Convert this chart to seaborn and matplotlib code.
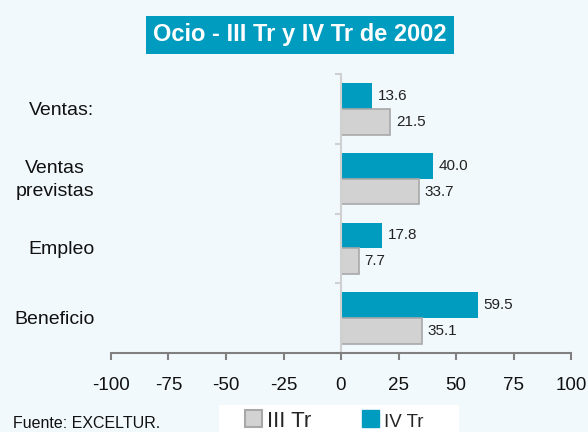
import pandas as pd
import matplotlib
matplotlib.use('Agg')
import matplotlib.pyplot as plt
import matplotlib.patches as mpatches
import seaborn as sns

#### Datos ####
categorias = ['Ventas:', 'Ventas\nprevistas', 'Empleo', 'Beneficio']
iii_tr = [21.5, 33.7, 7.7, 35.1]
iv_tr = [13.6, 40.0, 17.8, 59.5]
series = ['IV Tr', 'III Tr']
x_ticks = [-100, -75, -50, -25, 0, 25, 50, 75, 100]

FONDO = '#F2F9FD'
AZUL = '#009CBF'
GRIS = '#D2D2D2'

df = pd.DataFrame({
    'categoria': categorias * 2,
    'serie': ['IV Tr'] * 4 + ['III Tr'] * 4,
    'valor': iv_tr + iii_tr,
})

sns.set_style('white')
plt.rcParams['font.family'] = ['Liberation Sans', 'DejaVu Sans']

fig = plt.figure(figsize=(5.88, 4.32), dpi=100, facecolor=FONDO)
ax = fig.add_axes([111 / 588, 1 - 353 / 432, 460 / 588, 279 / 432])
ax.set_facecolor(FONDO)

sns.barplot(data=df, y='categoria', x='valor', hue='serie', hue_order=series,
            order=categorias, orient='h', palette={'IV Tr': AZUL, 'III Tr': GRIS},
            saturation=1, width=0.74, ax=ax, legend=False)

for cont, nombre in zip(ax.containers, series):
    for p in cont:
        if nombre == 'III Tr':
            p.set_edgecolor('#A8A8A8')
            p.set_linewidth(1.2)
        else:
            p.set_linewidth(0)
    ax.bar_label(cont, fmt='%.1f', padding=4, fontsize=11, color='#222222')

ax.set_xlim(-100, 100)
ax.set_ylim(3.5, -0.5)
ax.set_xticks(x_ticks)
ax.set_xticklabels([str(t) for t in x_ticks], fontsize=13.5)
ax.set_xlabel('')
ax.set_ylabel('')

#### Ejes ####
for lado in ['top', 'right']:
    ax.spines[lado].set_visible(False)
ax.spines['bottom'].set_color('#808080')
ax.spines['bottom'].set_linewidth(1.5)
ax.spines['left'].set_position(('data', 0))
ax.spines['left'].set_color('#D0D0D0')
ax.spines['left'].set_linewidth(1.5)
ax.tick_params(axis='x', bottom=True, direction='out', length=5, width=1.5,
               color='#808080', pad=12, labelcolor='#111111')
ax.set_yticks([i + 0.5 for i in range(-1, len(categorias))])
ax.tick_params(axis='y', left=True, direction='out', length=4, width=1.5,
               color='#D0D0D0')
ax.set_yticklabels([])

for i, cat in enumerate(categorias):
    ax.text(-0.036, i + 0.02, cat, transform=ax.get_yaxis_transform(), ha='right',
            va='center', fontsize=14, color='#111111', multialignment='center',
            linespacing=1.5)

#### Titulo ####
fig.text(300 / 588, 1 - 35 / 432, 'Ocio - III Tr y IV Tr de 2002', ha='center',
         va='center', fontsize=17, fontweight='bold', color='white',
         bbox=dict(boxstyle='square,pad=0.3', facecolor=AZUL, edgecolor='none'))

fig.text(13 / 588, 1 - 424 / 432, 'Fuente: EXCELTUR.', ha='left', va='center',
         fontsize=11.5, color='#111111')

#### Leyenda ####
fig.patches.append(mpatches.Rectangle((219 / 588, 0), 240 / 588, 27 / 432,
                                      transform=fig.transFigure, facecolor='white',
                                      edgecolor='none', zorder=0))
handles = [mpatches.Patch(facecolor=GRIS, edgecolor='#A8A8A8', linewidth=1.5, label='III Tr'),
           mpatches.Patch(facecolor=AZUL, edgecolor=AZUL, label='IV Tr')]
leg = fig.legend(handles=handles, loc='center left', ncol=2,
                 bbox_to_anchor=(245 / 588, 1 - 421 / 432), frameon=False,
                 fontsize=16, handlelength=0.77, handleheight=0.77,
                 columnspacing=2.3, handletextpad=0.22, borderpad=0,
                 borderaxespad=0)
leg.get_texts()[1].set_fontsize(13.5)

fig.savefig('out.png', dpi=100, facecolor=FONDO)
plt.close(fig)
